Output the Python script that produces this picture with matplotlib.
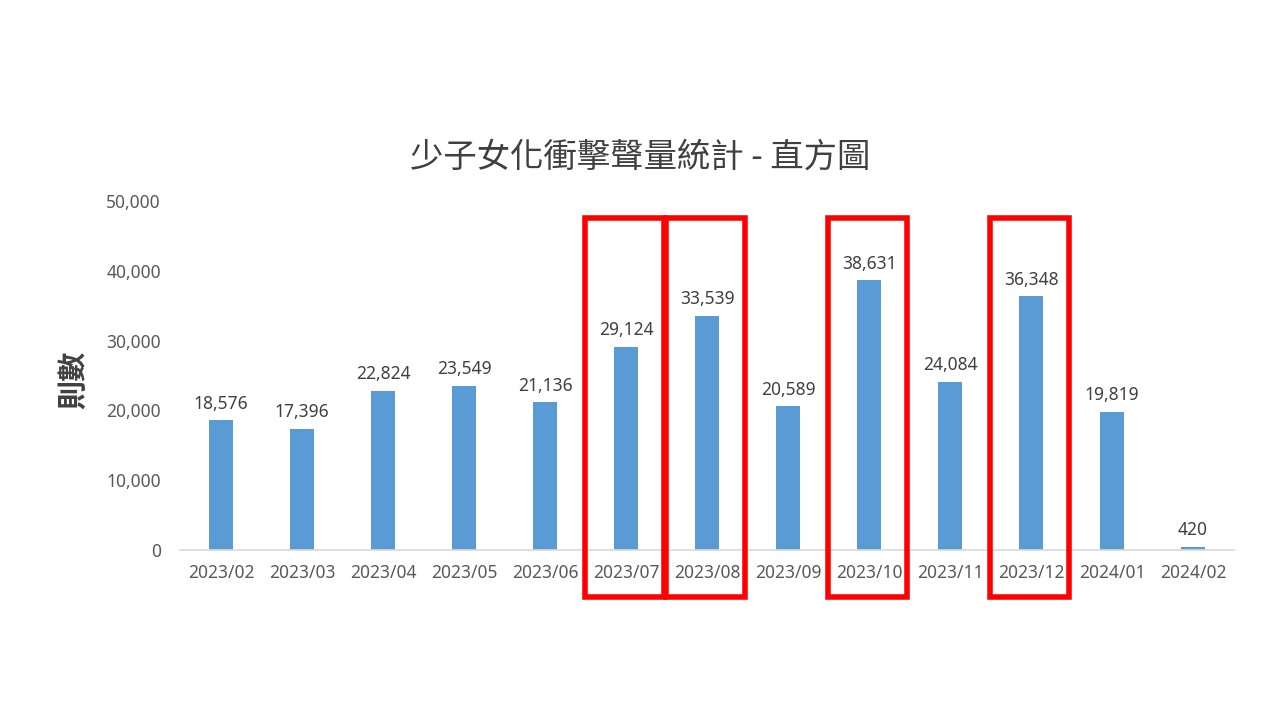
import matplotlib
matplotlib.use('Agg')
import matplotlib.pyplot as plt
from matplotlib.patches import Rectangle

plt.rcParams['font.family'] = ['Noto Sans', 'Noto Sans CJK TC', 'DejaVu Sans']

# data
months = ['2023/02', '2023/03', '2023/04', '2023/05', '2023/06', '2023/07', '2023/08',
          '2023/09', '2023/10', '2023/11', '2023/12', '2024/01', '2024/02']
counts = [18576, 17396, 22824, 23549, 21136, 29124, 33539,
          20589, 38631, 24084, 36348, 19819, 420]
highlight = ['2023/07', '2023/08', '2023/10', '2023/12']

fig = plt.figure(figsize=(12.8, 7.2), dpi=100)
ax = fig.add_axes([0.141, 0.2361, 0.8227, 0.4847])

x = list(range(len(months)))
ax.bar(x, counts, width=0.3, color='#5B9BD5', zorder=2)

for i, v in zip(x, counts):
    ax.text(i, v + 1100, f'{v:,}', ha='center', va='bottom', fontsize=12.5, color='#404040')

ax.set_xlim(-0.5, len(months) - 0.5)
ax.set_ylim(0, 50000)
ax.set_yticks(range(0, 50001, 10000))
ax.set_yticklabels([f'{t:,}' for t in range(0, 50001, 10000)])
ax.set_xticks(x)
ax.set_xticklabels(months)
ax.tick_params(axis='both', length=0, labelsize=12.5, labelcolor='#595959')
ax.tick_params(axis='y', pad=14)
ax.tick_params(axis='x', pad=10)

for s in ['top', 'right', 'left']:
    ax.spines[s].set_visible(False)
ax.spines['bottom'].set_color('#D9D9D9')
ax.spines['bottom'].set_linewidth(1.2)

# red highlight boxes
for m in highlight:
    i = months.index(m)
    ax.add_patch(Rectangle((i - 0.51, -6700), 0.98, 54200, fill=False,
                           edgecolor='#FF0000', linewidth=4, clip_on=False, zorder=5))

fig.text(0.5, 0.782, '少子女化衝擊聲量統計 - 直方圖', ha='center', va='center',
         fontsize=24, color='#404040', family=['Noto Sans CJK TC', 'DejaVu Sans'])
fig.text(0.057, 0.472, '則數', ha='center', va='center', rotation=90,
         fontsize=21, fontweight='bold', color='#404040',
         family=['Noto Sans CJK TC', 'DejaVu Sans'])

fig.savefig('out.png', dpi=100)
